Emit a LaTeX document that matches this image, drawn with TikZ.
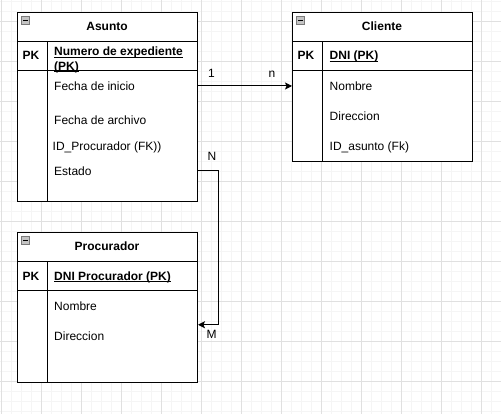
\documentclass[tikz,border=0pt]{standalone}
\usepackage{fontspec}
\setmainfont{Liberation Sans}
\newcommand{\myul}[1]{\setbox0\hbox{#1}\rlap{\rule[-1.7pt]{\wd0}{0.9pt}}\box0}
\usetikzlibrary{arrows.meta}
\definecolor{gridmajor}{HTML}{E0E0E0}
\definecolor{gridminor}{HTML}{F5F5F5}
\definecolor{iconfill}{HTML}{C4C4C4}
\definecolor{iconline}{HTML}{7A7A7A}
\begin{document}
\begin{tikzpicture}[x=1pt,y=-1pt,
  tbl/.style={draw, line width=1pt, fill=white, inner sep=0pt, anchor=north west},
  tline/.style={line width=1pt},
  txt/.style={font=\fontsize{12}{12.7}\selectfont, inner sep=0pt, text height=8.6pt, text depth=0pt, anchor=west},
  ttl/.style={txt, font=\fontsize{12}{12.7}\selectfont\bfseries, anchor=center},
  lbl/.style={txt, anchor=center},
  conn/.style={line width=1pt, -{Stealth[length=7pt,width=7pt,inset=1.5pt]}},
  iconbox/.style={draw=iconline, fill=iconfill, line width=0.8pt, minimum size=8pt, inner sep=0pt}
]
\useasboundingbox (0,0) rectangle (501,414);
\fill[white] (0,0) rectangle (501,414);
% grid
\foreach \x in {1.5,11.5,...,501}{\draw[gridminor, line width=1pt] (\x,0) -- (\x,414);}
\foreach \y in {1.5,11.5,...,414}{\draw[gridminor, line width=1pt] (0,\y) -- (501,\y);}
\foreach \x in {1.5,41.5,...,501}{\draw[gridmajor, line width=1pt] (\x,0) -- (\x,414);}
\foreach \y in {21.5,61.5,...,414}{\draw[gridmajor, line width=1pt] (0,\y) -- (501,\y);}

% ---- Asunto
\node[tbl, minimum width=180pt, minimum height=189pt] (asunto) at (17,12) {};
\draw[tline] (17,42) -- (197,42);
\draw[tline] (17,71) -- (197,71);
\draw[tline] (47,42) -- (47,201);
\node[iconbox] (ia) at (25.5,20.5) {};
\draw[line width=1pt] (23,20.5) -- (28,20.5);
\node[ttl] (asuntoT) at (107,26) {Asunto};
\node[ttl] (apk) at (31,55.5) {PK};
\node[font=\fontsize{12}{13.5}\selectfont\bfseries, inner sep=0pt, align=left, anchor=north west] (anum) at (54,47) {\myul{Numero de expediente}\\[1.2pt]\myul{(PK)}};
\node[txt] (fi) at (54,86) {Fecha de inicio};
\node[txt] (fa) at (54,120) {Fecha de archivo};
\node[txt] (idp) at (52.5,146) {ID\_Procurador (FK))};
\node[txt] (estado) at (54,171) {Estado};

% ---- Cliente
\node[tbl, minimum width=180pt, minimum height=149.5pt] (cliente) at (292,12) {};
\draw[tline] (292,42) -- (472,42);
\draw[tline] (292,71) -- (472,71);
\draw[tline] (322,42) -- (322,161.5);
\node[iconbox] (ic) at (300.5,20.5) {};
\draw[line width=1pt] (298,20.5) -- (303,20.5);
\node[ttl] (clienteT) at (382,26) {Cliente};
\node[ttl] (cpk) at (306,55.5) {PK};
\node[txt, font=\fontsize{12}{12.7}\selectfont\bfseries] (cdni) at (329.5,55.5) {\myul{DNI (PK)}};
\node[txt] (cnom) at (329.5,86) {Nombre};
\node[txt] (cdir) at (329.5,116) {Direccion};
\node[txt] (cid) at (329.5,146) {ID\_asunto (Fk)};

% ---- Procurador
\node[tbl, minimum width=180pt, minimum height=149.5pt] (proc) at (17,232) {};
\draw[tline] (17,262) -- (197,262);
\draw[tline] (17,291) -- (197,291);
\draw[tline] (47,262) -- (47,381.5);
\node[iconbox] (ip) at (25.5,240.5) {};
\draw[line width=1pt] (23,240.5) -- (28,240.5);
\node[ttl] (procT) at (107,246) {Procurador};
\node[ttl] (ppk) at (31,276) {PK};
\node[txt, font=\fontsize{12}{12.7}\selectfont\bfseries] (pdni) at (54,276) {\myul{DNI Procurador (PK)}};
\node[txt] (pnom) at (54,306) {Nombre};
\node[txt] (pdir) at (54,336) {Direccion};

% ---- connectors
\draw[conn] (asunto.east |- fi) -- (cliente.west |- fi);
\path (proc.east) ++(0,17.5) coordinate (pin);
\draw[conn] (asunto.east |- estado) -- ++(20,0) |- (pin);

% ---- labels
\node[lbl] (l1) at (211.5,73) {1};
\node[lbl] (ln) at (272,73) {n};
\node[lbl] (lN) at (212,156) {N};
\node[lbl] (lM) at (211.5,334) {M};
\end{tikzpicture}
\end{document}
